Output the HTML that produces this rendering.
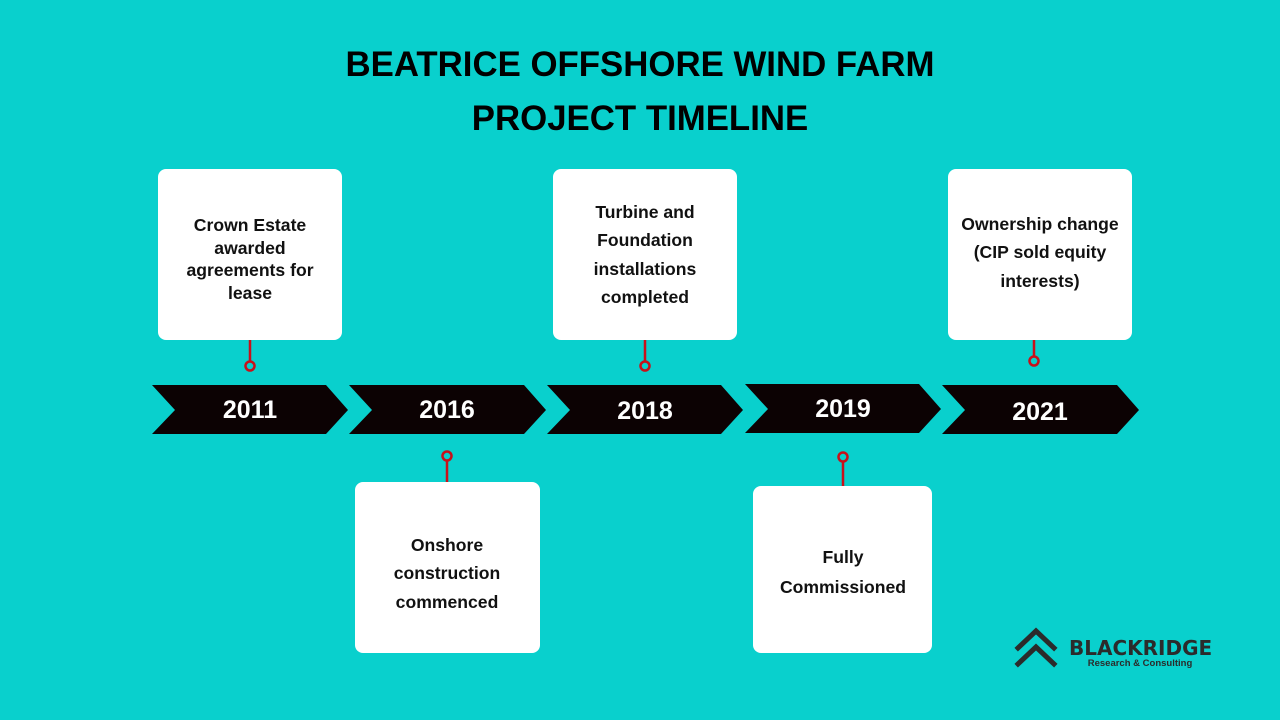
<!DOCTYPE html>
<html><head><meta charset="utf-8"><style>
body{margin:0;background:#09d0cd;}
svg{display:block}
.t{font-family:"Liberation Sans",sans-serif;font-weight:bold;fill:#000;text-anchor:middle}
.b{font-family:"Liberation Sans",sans-serif;font-weight:bold;fill:#111;text-anchor:middle;font-size:17.6px}
.y{font-family:"Liberation Sans",sans-serif;font-weight:bold;fill:#fff;text-anchor:middle;font-size:25px}
</style></head><body>
<svg width="1280" height="720" viewBox="0 0 1280 720">
<rect width="1280" height="720" fill="#09d0cd"/>
<text class="t" x="640" y="76" font-size="34.8">BEATRICE OFFSHORE WIND FARM</text>
<text class="t" x="640" y="130" font-size="34.8">PROJECT TIMELINE</text>

<g fill="#0c0203">
<polygon points="152,385 326,385 348,410 326,434 152,434 175,410"/>
<polygon points="349,385 524,385 546,410 524,434 349,434 372,410"/>
<polygon points="547,385 721,385 743,410 721,434 547,434 570,410"/>
<polygon points="745,384 919,384 941,409 919,433 745,433 768,409"/>
<polygon points="942,385 1117,385 1139,410 1117,434 942,434 965,410"/>
</g>
<text class="y" x="250" y="418">2011</text>
<text class="y" x="447" y="418">2016</text>
<text class="y" x="645" y="419">2018</text>
<text class="y" x="843" y="417">2019</text>
<text class="y" x="1040" y="420">2021</text>

<g fill="#fff">
<rect x="158" y="169" width="184" height="171" rx="8"/>
<rect x="553" y="169" width="184" height="171" rx="8"/>
<rect x="948" y="169" width="184" height="171" rx="8"/>
<rect x="355" y="482" width="185" height="171" rx="8"/>
<rect x="753" y="486" width="179" height="167" rx="8"/>
</g>
<g stroke="#c8101a" stroke-width="2.5" fill="none">
<line x1="250" y1="340" x2="250" y2="361"/><circle cx="250" cy="366" r="4.5"/>
<line x1="645" y1="340" x2="645" y2="361"/><circle cx="645" cy="366" r="4.5"/>
<line x1="1034" y1="340" x2="1034" y2="356"/><circle cx="1034" cy="361" r="4.5"/>
<line x1="447" y1="461" x2="447" y2="482"/><circle cx="447" cy="456" r="4.5"/>
<line x1="843" y1="462" x2="843" y2="486"/><circle cx="843" cy="457" r="4.5"/>
</g>

<text class="b" x="250" y="231">Crown Estate</text>
<text class="b" x="250" y="254">awarded</text>
<text class="b" x="250" y="276">agreements for</text>
<text class="b" x="250" y="299">lease</text>

<text class="b" x="645" y="218">Turbine and</text>
<text class="b" x="645" y="246">Foundation</text>
<text class="b" x="645" y="275">installations</text>
<text class="b" x="645" y="303">completed</text>

<text class="b" x="1040" y="230">Ownership change</text>
<text class="b" x="1040" y="258">(CIP sold equity</text>
<text class="b" x="1040" y="287">interests)</text>

<text class="b" x="447" y="551">Onshore</text>
<text class="b" x="447" y="579">construction</text>
<text class="b" x="447" y="608">commenced</text>

<text class="b" x="843" y="563" font-size="18.5">Fully</text>
<text class="b" x="843" y="593" font-size="18.5">Commissioned</text>

<g stroke="#2b2b2b" stroke-width="5" fill="none" stroke-linecap="square">
<polyline points="1018,648 1036,631 1054,648"/>
<polyline points="1018,664 1036,647 1054,664"/>
</g>
<text x="1069" y="655" font-family="'DejaVu Sans','Liberation Sans',sans-serif" font-weight="bold" font-size="20" fill="#2b2b2b">BLACKRIDGE</text>
<text x="1140" y="666" font-family="'Liberation Sans',sans-serif" font-weight="bold" font-size="9.5" fill="#2b2b2b" text-anchor="middle">Research &amp; Consulting</text>
</svg>
</body></html>
